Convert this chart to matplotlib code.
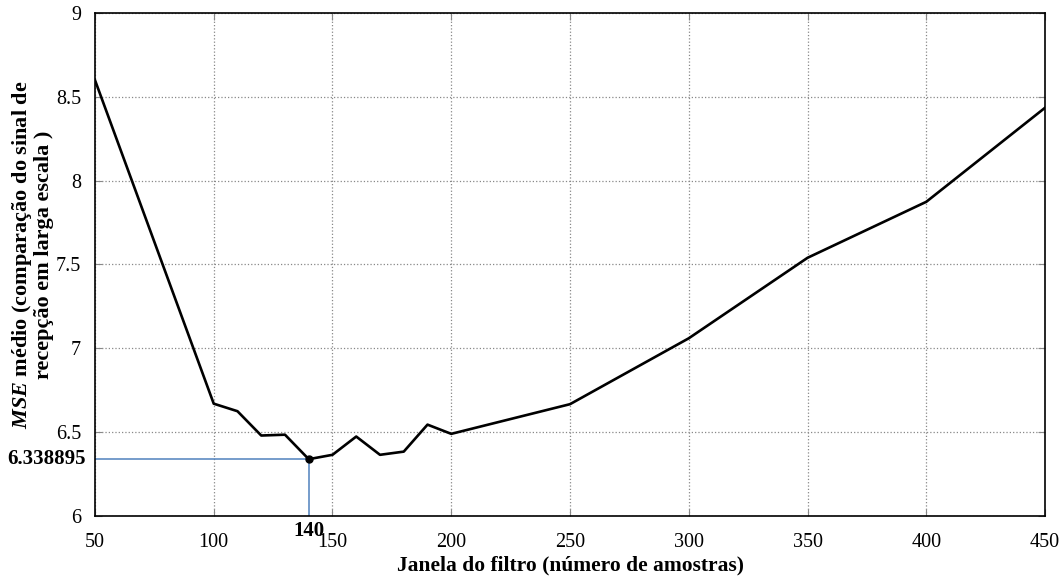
import numpy as np
import matplotlib
matplotlib.use('Agg')
import matplotlib.pyplot as plt

plt.rcParams['font.family'] = ['Liberation Serif', 'DejaVu Serif']
plt.rcParams['mathtext.fontset'] = 'custom'
plt.rcParams['mathtext.rm'] = 'Liberation Serif'
plt.rcParams['mathtext.it'] = 'Liberation Serif:italic'
plt.rcParams['mathtext.bf'] = 'Liberation Serif:bold'
plt.rcParams['mathtext.bfit'] = 'Liberation Serif:italic:bold'

# data
janela = [50, 100, 110, 120, 130, 140, 150, 160, 170, 180, 190, 200, 250, 300, 350, 400, 450]
mse = [8.60, 6.67, 6.625, 6.48, 6.485, 6.338895, 6.365, 6.474, 6.365, 6.384, 6.545, 6.49,
       6.667, 7.06, 7.54, 7.874, 8.435]
x_min = 140
y_min = 6.338895

fig = plt.figure(figsize=(10.61, 5.77), dpi=100)
ax = fig.add_axes([0.0895, 0.1057, 0.8955, 0.8718])

ax.plot(janela, mse, color='black', lw=1.9, zorder=3)
ax.plot([50, x_min], [y_min, y_min], color='#4f81bd', lw=1.1, zorder=2)
ax.plot([x_min, x_min], [6, y_min], color='#4f81bd', lw=1.1, zorder=2)
ax.plot([x_min], [y_min], 'o', color='black', ms=5, zorder=4)

ax.set_xlim(50, 450)
ax.set_ylim(6, 9)
ax.set_xticks([50, 100, 150, 200, 250, 300, 350, 400, 450])
ax.set_yticks([6, 6.5, 7, 7.5, 8, 8.5, 9])
ax.set_yticklabels(['6', '6.5', '7', '7.5', '8', '8.5', '9'])
ax.grid(True, linestyle=':', color='#888888', lw=0.9)
ax.tick_params(direction='in', top=True, right=True, labelsize=14.5, length=5, color='#888888')
ax.tick_params(axis='x', pad=12)
ax.tick_params(axis='y', pad=10)
for s in ax.spines.values():
    s.set_linewidth(1.2)

ax.text(x_min, 5.97, '140', ha='center', va='top', fontsize=15, fontweight='bold')
ax.text(46.3, y_min, '6.338895', ha='right', va='center', fontsize=15, fontweight='bold')

ax.set_xlabel('Janela do filtro (número de amostras)', fontsize=15.5, fontweight='bold', labelpad=3)
ax.set_ylabel(r'$\mathbfit{MSE}$ médio (comparação do sinal de' + '\n' + 'recepção em larga escala )',
              fontsize=16, fontweight='bold', linespacing=1.0)
ax.yaxis.set_label_coords(-0.043, 0.52)

fig.savefig('out.png', dpi=100)
